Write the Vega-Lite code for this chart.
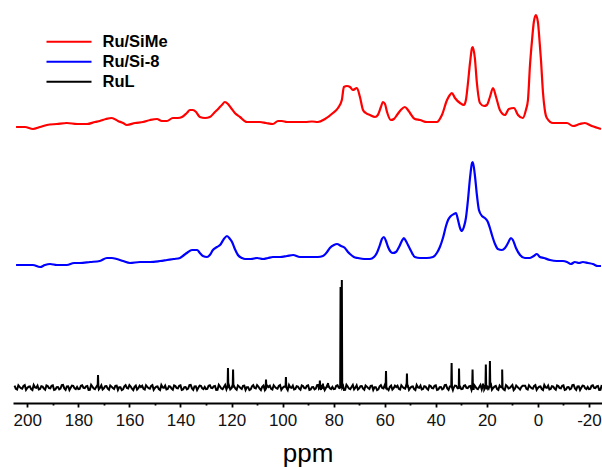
{
"$schema": "https://vega.github.io/schema/vega-lite/v6.json",
"width": 589, "height": 400,
"autosize": {"type": "none"},
"padding": {"left": 13, "top": 3, "right": 0, "bottom": 64},
"datasets": {
"red": [
{"ppm":204.4,"i":276},{"ppm":200.9,"i":276},{"ppm":197.8,"i":274},{"ppm":195.0,"i":276},{"ppm":192.3,"i":278},{"ppm":188.4,"i":279},{"ppm":184.5,"i":280},{"ppm":180.5,"i":279},{"ppm":176.6,"i":279},{"ppm":173.5,"i":281},{"ppm":171.6,"i":282},{"ppm":169.2,"i":284},{"ppm":166.9,"i":285},{"ppm":164.5,"i":282},{"ppm":162.5,"i":280},{"ppm":161.0,"i":278},{"ppm":157.8,"i":280},{"ppm":154.7,"i":281},{"ppm":151.9,"i":283},{"ppm":149.2,"i":284},{"ppm":147.3,"i":282},{"ppm":145.3,"i":282},{"ppm":143.0,"i":285},{"ppm":141.0,"i":285},{"ppm":139.4,"i":286},{"ppm":137.5,"i":290},{"ppm":136.3,"i":293},{"ppm":135.1,"i":293},{"ppm":133.9,"i":291},{"ppm":132.4,"i":286},{"ppm":130.4,"i":285},{"ppm":128.5,"i":286},{"ppm":126.5,"i":291},{"ppm":124.9,"i":295},{"ppm":123.8,"i":298},{"ppm":122.6,"i":301},{"ppm":121.4,"i":299},{"ppm":120.2,"i":295},{"ppm":118.7,"i":290},{"ppm":116.7,"i":286},{"ppm":114.0,"i":281},{"ppm":111.6,"i":281},{"ppm":108.9,"i":281},{"ppm":106.5,"i":280},{"ppm":103.8,"i":279},{"ppm":101.8,"i":282},{"ppm":100.3,"i":282},{"ppm":98.3,"i":281},{"ppm":95.9,"i":281},{"ppm":93.2,"i":281},
{"ppm":91.2,"i":281},{"ppm":88.5,"i":281.5},{"ppm":86.2,"i":281},{"ppm":83.4,"i":284},{"ppm":80.3,"i":290},{"ppm":78.3,"i":295},{"ppm":76.8,"i":303},{"ppm":76.0,"i":316},{"ppm":74.8,"i":317},{"ppm":73.6,"i":316},{"ppm":72.5,"i":313},{"ppm":70.9,"i":315},{"ppm":69.7,"i":306},{"ppm":68.5,"i":293},{"ppm":67.4,"i":290},{"ppm":65.8,"i":288},{"ppm":63.8,"i":286},{"ppm":62.7,"i":288},{"ppm":61.5,"i":296},{"ppm":60.7,"i":301},{"ppm":59.9,"i":299},{"ppm":59.1,"i":291},{"ppm":57.6,"i":283},{"ppm":56.4,"i":284},{"ppm":55.2,"i":288},{"ppm":53.7,"i":293},{"ppm":52.1,"i":296},{"ppm":50.9,"i":293},{"ppm":50.1,"i":290},{"ppm":48.2,"i":284},{"ppm":46.2,"i":283},{"ppm":43.5,"i":281},{"ppm":39.6,"i":281},{"ppm":37.6,"i":288},{"ppm":35.6,"i":303},{"ppm":34.5,"i":308},{"ppm":33.7,"i":310},{"ppm":32.5,"i":305},{"ppm":30.5,"i":300},{"ppm":29.0,"i":298},{"ppm":28.2,"i":303},{"ppm":27.4,"i":320},{"ppm":26.6,"i":340},{"ppm":25.8,"i":355},{"ppm":25.5,"i":356},{"ppm":24.7,"i":345},{"ppm":23.9,"i":320},{"ppm":22.7,"i":300},{"ppm":21.1,"i":297},{"ppm":20.0,"i":298},{"ppm":18.8,"i":306},{"ppm":17.6,"i":315},{"ppm":16.4,"i":306},{"ppm":14.9,"i":293},{"ppm":12.9,"i":288},{"ppm":11.4,"i":294},{"ppm":9.4,"i":295},{"ppm":7.8,"i":288},{"ppm":5.9,"i":285},{"ppm":4.7,"i":293},{"ppm":3.9,"i":303},{"ppm":3.1,"i":338},{"ppm":2.3,"i":363},{"ppm":1.6,"i":381},{"ppm":0.8,"i":388},{"ppm":0.0,"i":381},{"ppm":-0.4,"i":370},{"ppm":-1.2,"i":343},{"ppm":-2.0,"i":310},{"ppm":-2.7,"i":293},{"ppm":-3.5,"i":285},{"ppm":-5.9,"i":280},{"ppm":-8.6,"i":280},{"ppm":-11.4,"i":280},{"ppm":-13.7,"i":277},{"ppm":-16.4,"i":279},{"ppm":-18.4,"i":280},{"ppm":-21.1,"i":277},{"ppm":-23.5,"i":275},{"ppm":-24.7,"i":274}
],
"blue": [
{"ppm":204.4,"i":138},{"ppm":200.9,"i":138},{"ppm":197.8,"i":138},{"ppm":195.0,"i":136},{"ppm":193.1,"i":138},{"ppm":191.1,"i":139},{"ppm":188.4,"i":138},{"ppm":184.5,"i":138},{"ppm":181.7,"i":140},{"ppm":179.4,"i":140},{"ppm":175.4,"i":141},{"ppm":171.6,"i":142},{"ppm":168.8,"i":145},{"ppm":166.9,"i":145},{"ppm":164.9,"i":144},{"ppm":162.5,"i":142},{"ppm":159.8,"i":140},{"ppm":155.9,"i":141},{"ppm":151.9,"i":141},{"ppm":148.0,"i":142},{"ppm":145.3,"i":143},{"ppm":142.6,"i":144},{"ppm":140.2,"i":145},{"ppm":138.6,"i":148},{"ppm":137.5,"i":150},{"ppm":135.5,"i":153},{"ppm":133.5,"i":153},{"ppm":132.4,"i":150},{"ppm":131.2,"i":147},{"ppm":129.6,"i":146},{"ppm":128.5,"i":148},{"ppm":127.3,"i":153},{"ppm":125.7,"i":156},{"ppm":124.5,"i":158},{"ppm":123.0,"i":164},{"ppm":121.8,"i":167},{"ppm":120.6,"i":164},{"ppm":119.8,"i":161},{"ppm":118.7,"i":154},{"ppm":117.5,"i":148},{"ppm":115.9,"i":145},{"ppm":114.7,"i":144},{"ppm":112.4,"i":144},{"ppm":110.0,"i":145},{"ppm":107.7,"i":144},{"ppm":105.7,"i":145},{"ppm":103.8,"i":146},{"ppm":101.0,"i":146},{"ppm":98.3,"i":147},{"ppm":95.9,"i":148},{"ppm":93.2,"i":146},
{"ppm":90.9,"i":146},{"ppm":88.1,"i":146},{"ppm":86.2,"i":146},{"ppm":84.2,"i":147},{"ppm":82.6,"i":151},{"ppm":81.5,"i":155},{"ppm":79.9,"i":158},{"ppm":78.7,"i":159},{"ppm":77.1,"i":157},{"ppm":75.6,"i":155},{"ppm":74.4,"i":151},{"ppm":73.6,"i":149},{"ppm":72.1,"i":146},{"ppm":70.5,"i":145},{"ppm":68.1,"i":144},{"ppm":65.8,"i":144},{"ppm":64.2,"i":146},{"ppm":63.1,"i":150},{"ppm":61.9,"i":158},{"ppm":61.1,"i":164},{"ppm":60.3,"i":166},{"ppm":59.5,"i":162},{"ppm":58.7,"i":156},{"ppm":57.6,"i":151},{"ppm":56.8,"i":150},{"ppm":55.6,"i":151},{"ppm":54.4,"i":156},{"ppm":53.3,"i":162},{"ppm":52.5,"i":165},{"ppm":51.7,"i":162},{"ppm":50.9,"i":158},{"ppm":49.7,"i":152},{"ppm":48.2,"i":146},{"ppm":46.2,"i":145},{"ppm":43.5,"i":145},{"ppm":41.1,"i":146},{"ppm":39.6,"i":150},{"ppm":38.4,"i":156},{"ppm":37.2,"i":165},{"ppm":36.0,"i":177},{"ppm":35.2,"i":183},{"ppm":34.1,"i":187},{"ppm":32.9,"i":189},{"ppm":32.1,"i":190},{"ppm":31.3,"i":183},{"ppm":30.5,"i":175},{"ppm":29.8,"i":172},{"ppm":29.0,"i":176},{"ppm":28.2,"i":185},{"ppm":27.4,"i":203},{"ppm":26.6,"i":225},{"ppm":25.8,"i":240},{"ppm":25.5,"i":241},{"ppm":24.7,"i":228},{"ppm":23.9,"i":208},{"ppm":23.1,"i":193},{"ppm":21.9,"i":187},{"ppm":20.8,"i":185},{"ppm":19.6,"i":181},{"ppm":18.8,"i":175},{"ppm":18.0,"i":168},{"ppm":16.8,"i":159},{"ppm":15.7,"i":154},{"ppm":14.1,"i":153},{"ppm":12.9,"i":155},{"ppm":11.7,"i":160},{"ppm":10.6,"i":165},{"ppm":9.8,"i":163},{"ppm":8.6,"i":155},{"ppm":7.0,"i":148},{"ppm":5.1,"i":145},{"ppm":3.1,"i":145},{"ppm":1.6,"i":147},{"ppm":0.4,"i":149},{"ppm":-0.8,"i":146},{"ppm":-2.3,"i":145},{"ppm":-4.7,"i":143},{"ppm":-7.4,"i":142},{"ppm":-9.8,"i":142},{"ppm":-11.4,"i":141},{"ppm":-12.9,"i":139},{"ppm":-14.5,"i":141},{"ppm":-16.1,"i":140},{"ppm":-17.6,"i":141},{"ppm":-19.6,"i":140},{"ppm":-21.5,"i":139},{"ppm":-23.5,"i":137},{"ppm":-24.7,"i":137}
],
"black": [
{"ppm":205,"i":17.3},{"ppm":204,"i":13.4},{"ppm":203,"i":16.1},{"ppm":202,"i":14.3},{"ppm":201,"i":17.9},{"ppm":200,"i":15.1},{"ppm":199,"i":16.6},{"ppm":198,"i":12.9},{"ppm":197,"i":15.7},{"ppm":196,"i":17.4},{"ppm":195,"i":14.0},{"ppm":194,"i":16.4},{"ppm":193,"i":13.3},{"ppm":192,"i":16.9},{"ppm":191,"i":14.7},{"ppm":190,"i":17.6},{"ppm":189,"i":13.6},{"ppm":188,"i":15.9},{"ppm":187,"i":14.5},{"ppm":186,"i":18.1},{"ppm":185,"i":13.1},{"ppm":184,"i":16.7},{"ppm":183,"i":15.2},{"ppm":182,"i":17.2},{"ppm":181,"i":13.9},
{"ppm":180,"i":13.9},{"ppm":179,"i":17.2},{"ppm":178,"i":15.2},{"ppm":177,"i":16.7},{"ppm":176,"i":13.1},{"ppm":175,"i":18.1},{"ppm":174,"i":14.5},{"ppm":173,"i":15.9},{"ppm":172,"i":13.6},{"ppm":171,"i":17.6},{"ppm":170,"i":14.7},{"ppm":169,"i":16.9},{"ppm":168,"i":13.3},{"ppm":167,"i":16.4},{"ppm":166,"i":14.0},{"ppm":165,"i":17.4},{"ppm":164,"i":15.7},{"ppm":163,"i":12.9},{"ppm":162,"i":16.6},{"ppm":161,"i":15.1},{"ppm":160,"i":17.9},{"ppm":159,"i":14.3},{"ppm":158,"i":16.1},{"ppm":157,"i":13.4},{"ppm":156,"i":17.3},
{"ppm":155,"i":17.3},{"ppm":154,"i":13.4},{"ppm":153,"i":16.1},{"ppm":152,"i":14.3},{"ppm":151,"i":17.9},{"ppm":150,"i":15.1},{"ppm":149,"i":16.6},{"ppm":148,"i":12.9},{"ppm":147,"i":15.7},{"ppm":146,"i":17.4},{"ppm":145,"i":14.0},{"ppm":144,"i":16.4},{"ppm":143,"i":13.3},{"ppm":142,"i":16.9},{"ppm":141,"i":14.7},{"ppm":140,"i":17.6},{"ppm":139,"i":13.6},{"ppm":138,"i":15.9},{"ppm":137,"i":14.5},{"ppm":136,"i":18.1},{"ppm":135,"i":13.1},{"ppm":134,"i":16.7},{"ppm":133,"i":15.2},{"ppm":132,"i":17.2},{"ppm":131,"i":13.9},
{"ppm":130,"i":13.9},{"ppm":129,"i":17.2},{"ppm":128,"i":15.2},{"ppm":127,"i":16.7},{"ppm":126,"i":13.1},{"ppm":125,"i":18.1},{"ppm":124,"i":14.5},{"ppm":123,"i":15.9},{"ppm":122,"i":13.6},{"ppm":121,"i":17.6},{"ppm":120,"i":14.7},{"ppm":119,"i":16.9},{"ppm":118,"i":13.3},{"ppm":117,"i":16.4},{"ppm":116,"i":14.0},{"ppm":115,"i":17.4},{"ppm":114,"i":15.7},{"ppm":113,"i":12.9},{"ppm":112,"i":16.6},{"ppm":111,"i":15.1},{"ppm":110,"i":17.9},{"ppm":109,"i":14.3},{"ppm":108,"i":16.1},{"ppm":107,"i":13.4},{"ppm":106,"i":17.3},
{"ppm":105,"i":17.3},{"ppm":104,"i":13.4},{"ppm":103,"i":16.1},{"ppm":102,"i":14.3},{"ppm":101,"i":17.9},{"ppm":100,"i":15.1},{"ppm":99,"i":16.6},{"ppm":98,"i":12.9},{"ppm":97,"i":15.7},{"ppm":96,"i":17.4},{"ppm":95,"i":14.0},{"ppm":94,"i":16.4},{"ppm":93,"i":13.3},{"ppm":92,"i":16.9},{"ppm":91,"i":14.7},{"ppm":90,"i":17.6},{"ppm":89,"i":13.6},{"ppm":88,"i":15.9},{"ppm":87,"i":14.5},{"ppm":86,"i":18.1},{"ppm":85,"i":13.1},{"ppm":84,"i":16.7},{"ppm":83,"i":15.2},{"ppm":82,"i":17.2},{"ppm":81,"i":13.9},
{"ppm":80,"i":13.9},{"ppm":79,"i":17.2},{"ppm":78,"i":15.2},{"ppm":77,"i":16.7},{"ppm":76,"i":13.1},{"ppm":75,"i":18.1},{"ppm":74,"i":14.5},{"ppm":73,"i":15.9},{"ppm":72,"i":13.6},{"ppm":71,"i":17.6},{"ppm":70,"i":14.7},{"ppm":69,"i":16.9},{"ppm":68,"i":13.3},{"ppm":67,"i":16.4},{"ppm":66,"i":14.0},{"ppm":65,"i":17.4},{"ppm":64,"i":15.7},{"ppm":63,"i":12.9},{"ppm":62,"i":16.6},{"ppm":61,"i":15.1},{"ppm":60,"i":17.9},{"ppm":59,"i":14.3},{"ppm":58,"i":16.1},{"ppm":57,"i":13.4},{"ppm":56,"i":17.3},
{"ppm":55,"i":17.3},{"ppm":54,"i":13.4},{"ppm":53,"i":16.1},{"ppm":52,"i":14.3},{"ppm":51,"i":17.9},{"ppm":50,"i":15.1},{"ppm":49,"i":16.6},{"ppm":48,"i":12.9},{"ppm":47,"i":15.7},{"ppm":46,"i":17.4},{"ppm":45,"i":14.0},{"ppm":44,"i":16.4},{"ppm":43,"i":13.3},{"ppm":42,"i":16.9},{"ppm":41,"i":14.7},{"ppm":40,"i":17.6},{"ppm":39,"i":13.6},{"ppm":38,"i":15.9},{"ppm":37,"i":14.5},{"ppm":36,"i":18.1},{"ppm":35,"i":13.1},{"ppm":34,"i":16.7},{"ppm":33,"i":15.2},{"ppm":32,"i":17.2},{"ppm":31,"i":13.9},
{"ppm":30,"i":13.9},{"ppm":29,"i":17.2},{"ppm":28,"i":15.2},{"ppm":27,"i":16.7},{"ppm":26,"i":13.1},{"ppm":25,"i":18.1},{"ppm":24,"i":14.5},{"ppm":23,"i":15.9},{"ppm":22,"i":13.6},{"ppm":21,"i":17.6},{"ppm":20,"i":14.7},{"ppm":19,"i":16.9},{"ppm":18,"i":13.3},{"ppm":17,"i":16.4},{"ppm":16,"i":14.0},{"ppm":15,"i":17.4},{"ppm":14,"i":15.7},{"ppm":13,"i":12.9},{"ppm":12,"i":16.6},{"ppm":11,"i":15.1},{"ppm":10,"i":17.9},{"ppm":9,"i":14.3},{"ppm":8,"i":16.1},{"ppm":7,"i":13.4},{"ppm":6,"i":17.3},
{"ppm":5,"i":17.3},{"ppm":4,"i":13.4},{"ppm":3,"i":16.1},{"ppm":2,"i":14.3},{"ppm":1,"i":17.9},{"ppm":0,"i":15.1},{"ppm":-1,"i":16.6},{"ppm":-2,"i":12.9},{"ppm":-3,"i":15.7},{"ppm":-4,"i":17.4},{"ppm":-5,"i":14.0},{"ppm":-6,"i":16.4},{"ppm":-7,"i":13.3},{"ppm":-8,"i":16.9},{"ppm":-9,"i":14.7},{"ppm":-10,"i":17.6},{"ppm":-11,"i":13.6},{"ppm":-12,"i":15.9},{"ppm":-13,"i":14.5},{"ppm":-14,"i":18.1},{"ppm":-15,"i":13.1},{"ppm":-16,"i":16.7},{"ppm":-17,"i":15.2},{"ppm":-18,"i":17.2},{"ppm":-19,"i":13.9},
{"ppm":-20,"i":13.9},{"ppm":-21,"i":17.2},{"ppm":-22,"i":15.2},{"ppm":-23,"i":16.7},{"ppm":-24,"i":13.1},{"ppm":-25,"i":18.1},
{"ppm":204.5,"i":14.1},{"ppm":203.5,"i":17.7},{"ppm":202.5,"i":14.9},{"ppm":201.5,"i":17.0},{"ppm":200.5,"i":13.2},{"ppm":199.5,"i":16.3},{"ppm":198.5,"i":13.8},{"ppm":197.5,"i":18.0},{"ppm":196.5,"i":15.3},{"ppm":195.5,"i":13.5},{"ppm":194.5,"i":16.8},{"ppm":193.5,"i":14.4},{"ppm":192.5,"i":17.5},{"ppm":191.5,"i":15.0},{"ppm":190.5,"i":17.1},{"ppm":189.5,"i":13.1},{"ppm":188.5,"i":15.8},{"ppm":187.5,"i":13.7},{"ppm":186.5,"i":17.8},{"ppm":185.5,"i":14.6},{"ppm":184.5,"i":16.5},{"ppm":183.5,"i":12.9},{"ppm":182.5,"i":17.4},{"ppm":181.5,"i":14.8},{"ppm":180.5,"i":16.0},
{"ppm":179.5,"i":14.1},{"ppm":178.5,"i":17.7},{"ppm":177.5,"i":14.9},{"ppm":176.5,"i":17.0},{"ppm":175.5,"i":13.2},{"ppm":174.5,"i":16.3},{"ppm":173.5,"i":13.8},{"ppm":172.5,"i":18.0},{"ppm":171.5,"i":15.3},{"ppm":170.5,"i":13.5},{"ppm":169.5,"i":16.8},{"ppm":168.5,"i":14.4},{"ppm":167.5,"i":17.5},{"ppm":166.5,"i":15.0},{"ppm":165.5,"i":17.1},{"ppm":164.5,"i":13.1},{"ppm":163.5,"i":15.8},{"ppm":162.5,"i":13.7},{"ppm":161.5,"i":17.8},{"ppm":160.5,"i":14.6},{"ppm":159.5,"i":16.5},{"ppm":158.5,"i":12.9},{"ppm":157.5,"i":17.4},{"ppm":156.5,"i":14.8},{"ppm":155.5,"i":16.0},
{"ppm":154.5,"i":14.1},{"ppm":153.5,"i":17.7},{"ppm":152.5,"i":14.9},{"ppm":151.5,"i":17.0},{"ppm":150.5,"i":13.2},{"ppm":149.5,"i":16.3},{"ppm":148.5,"i":13.8},{"ppm":147.5,"i":18.0},{"ppm":146.5,"i":15.3},{"ppm":145.5,"i":13.5},{"ppm":144.5,"i":16.8},{"ppm":143.5,"i":14.4},{"ppm":142.5,"i":17.5},{"ppm":141.5,"i":15.0},{"ppm":140.5,"i":17.1},{"ppm":139.5,"i":13.1},{"ppm":138.5,"i":15.8},{"ppm":137.5,"i":13.7},{"ppm":136.5,"i":17.8},{"ppm":135.5,"i":14.6},{"ppm":134.5,"i":16.5},{"ppm":133.5,"i":12.9},{"ppm":132.5,"i":17.4},{"ppm":131.5,"i":14.8},{"ppm":130.5,"i":16.0},
{"ppm":129.5,"i":14.1},{"ppm":128.5,"i":17.7},{"ppm":127.5,"i":14.9},{"ppm":126.5,"i":17.0},{"ppm":125.5,"i":13.2},{"ppm":124.5,"i":16.3},{"ppm":123.5,"i":13.8},{"ppm":122.5,"i":18.0},{"ppm":121.75,"i":15.3},{"ppm":120.5,"i":13.5},{"ppm":119.75,"i":16.8},{"ppm":118.5,"i":14.4},{"ppm":117.5,"i":17.5},{"ppm":116.5,"i":15.0},{"ppm":115.5,"i":17.1},{"ppm":114.5,"i":13.1},{"ppm":113.5,"i":15.8},{"ppm":112.5,"i":13.7},{"ppm":111.5,"i":17.8},{"ppm":110.5,"i":14.6},{"ppm":109.5,"i":16.5},{"ppm":108.5,"i":12.9},{"ppm":107.5,"i":17.4},{"ppm":106.8,"i":14.8},{"ppm":105.5,"i":16.0},
{"ppm":104.5,"i":14.1},{"ppm":103.5,"i":17.7},{"ppm":102.5,"i":14.9},{"ppm":101.5,"i":17.0},{"ppm":100.5,"i":13.2},{"ppm":99.5,"i":16.3},{"ppm":98.2,"i":13.8},{"ppm":97.5,"i":18.0},{"ppm":96.5,"i":15.3},{"ppm":95.5,"i":13.5},{"ppm":94.5,"i":16.8},{"ppm":93.5,"i":14.4},{"ppm":92.5,"i":17.5},{"ppm":91.5,"i":15.0},{"ppm":90.5,"i":17.1},{"ppm":89.5,"i":13.1},{"ppm":88.5,"i":15.8},{"ppm":87.5,"i":13.7},{"ppm":86.5,"i":17.8},{"ppm":85.8,"i":14.6},{"ppm":84.7,"i":16.5},{"ppm":83.5,"i":12.9},{"ppm":82.6,"i":17.4},{"ppm":81.5,"i":14.8},{"ppm":80.5,"i":16.0},
{"ppm":79.5,"i":14.1},{"ppm":78.5,"i":17.7},{"ppm":77.7,"i":14.9},{"ppm":76.3,"i":17.0},{"ppm":75.5,"i":13.2},{"ppm":74.5,"i":16.3},{"ppm":73.5,"i":13.8},{"ppm":72.5,"i":18.0},{"ppm":71.5,"i":15.3},{"ppm":70.5,"i":13.5},{"ppm":69.5,"i":16.8},{"ppm":68.5,"i":14.4},{"ppm":67.5,"i":17.5},{"ppm":66.5,"i":15.0},{"ppm":65.5,"i":17.1},{"ppm":64.5,"i":13.1},{"ppm":63.5,"i":15.8},{"ppm":62.5,"i":13.7},{"ppm":61.5,"i":17.8},{"ppm":60.5,"i":14.6},{"ppm":59.9,"i":16.5},{"ppm":58.5,"i":12.9},{"ppm":57.5,"i":17.4},{"ppm":56.5,"i":14.8},{"ppm":55.5,"i":16.0},
{"ppm":54.5,"i":14.1},{"ppm":53.5,"i":17.7},{"ppm":52.5,"i":14.9},{"ppm":51.7,"i":17.0},{"ppm":50.5,"i":13.2},{"ppm":49.5,"i":16.3},{"ppm":48.5,"i":13.8},{"ppm":47.5,"i":18.0},{"ppm":46.5,"i":15.3},{"ppm":45.5,"i":13.5},{"ppm":44.5,"i":16.8},{"ppm":43.5,"i":14.4},{"ppm":42.5,"i":17.5},{"ppm":41.5,"i":15.0},{"ppm":40.5,"i":17.1},{"ppm":39.5,"i":13.1},{"ppm":38.5,"i":15.8},{"ppm":37.5,"i":13.7},{"ppm":36.5,"i":17.8},{"ppm":35.5,"i":14.6},{"ppm":34.5,"i":16.5},{"ppm":33.3,"i":12.9},{"ppm":32.5,"i":17.4},{"ppm":31.5,"i":14.8},{"ppm":30.4,"i":16.0},
{"ppm":29.5,"i":14.1},{"ppm":28.5,"i":17.7},{"ppm":27.5,"i":14.9},{"ppm":26.5,"i":17.0},{"ppm":25.2,"i":13.2},{"ppm":24.5,"i":16.3},{"ppm":23.5,"i":13.8},{"ppm":22.5,"i":18.0},{"ppm":21.8,"i":15.3},{"ppm":21.0,"i":13.5},{"ppm":19.95,"i":16.8},{"ppm":19.3,"i":14.4},{"ppm":18.3,"i":17.5},{"ppm":17.5,"i":15.0},{"ppm":16.5,"i":17.1},{"ppm":15.5,"i":13.1},{"ppm":14.5,"i":15.8},{"ppm":13.5,"i":13.7},{"ppm":12.5,"i":17.8},{"ppm":11.5,"i":14.6},{"ppm":10.5,"i":16.5},{"ppm":9.5,"i":12.9},{"ppm":8.5,"i":17.4},{"ppm":7.5,"i":14.8},{"ppm":6.5,"i":16.0},
{"ppm":4.5,"i":14.1},{"ppm":3.5,"i":17.7},{"ppm":2.5,"i":14.9},{"ppm":1.5,"i":17.0},{"ppm":0.5,"i":13.2},{"ppm":-0.5,"i":16.3},{"ppm":-1.5,"i":13.8},{"ppm":-2.5,"i":18.0},{"ppm":-3.5,"i":15.3},{"ppm":-4.5,"i":13.5},{"ppm":-5.5,"i":16.8},{"ppm":-6.5,"i":14.4},{"ppm":-7.5,"i":17.5},{"ppm":-8.5,"i":15.0},{"ppm":-9.5,"i":17.1},{"ppm":-10.5,"i":13.1},{"ppm":-11.5,"i":15.8},{"ppm":-12.5,"i":13.7},{"ppm":-13.5,"i":17.8},{"ppm":-14.5,"i":14.6},{"ppm":-15.5,"i":16.5},{"ppm":-16.5,"i":12.9},{"ppm":-17.5,"i":17.4},{"ppm":-18.5,"i":14.8},{"ppm":-19.5,"i":16.0},
{"ppm":-20.5,"i":14.1},{"ppm":-21.5,"i":17.7},{"ppm":-22.5,"i":14.9},{"ppm":-23.5,"i":17.0},{"ppm":-24.5,"i":13.2},
{"ppm":172.45,"i":15.5},{"ppm":172.3,"i":28},{"ppm":172.15,"i":15.5},
{"ppm":121.55,"i":15.5},{"ppm":121.4,"i":35},{"ppm":121.25,"i":15.5},
{"ppm":119.55,"i":15.5},{"ppm":119.4,"i":33.5},{"ppm":119.25,"i":15.5},
{"ppm":106.65,"i":15.5},{"ppm":106.5,"i":23.5},{"ppm":106.35,"i":15.5},
{"ppm":98.85,"i":15.5},{"ppm":98.7,"i":26},{"ppm":98.55,"i":15.5},
{"ppm":85.55,"i":15.5},{"ppm":85.4,"i":22.5},{"ppm":85.25,"i":15.5},
{"ppm":84.35,"i":15.5},{"ppm":84.2,"i":19.5},{"ppm":84.05,"i":15.5},
{"ppm":82.35,"i":15.5},{"ppm":82.2,"i":20},{"ppm":82.05,"i":15.5},
{"ppm":77.45,"i":15.5},{"ppm":77.3,"i":116},{"ppm":77.15,"i":15.5},
{"ppm":76.95,"i":15.5},{"ppm":76.8,"i":123},{"ppm":76.65,"i":15.5},
{"ppm":59.65,"i":15.5},{"ppm":59.5,"i":32},{"ppm":59.35,"i":15.5},
{"ppm":51.45,"i":15.5},{"ppm":51.3,"i":29.5},{"ppm":51.15,"i":15.5},
{"ppm":33.95,"i":15.5},{"ppm":33.8,"i":40},{"ppm":33.65,"i":15.5},
{"ppm":31.05,"i":15.5},{"ppm":30.9,"i":34.5},{"ppm":30.75,"i":15.5},
{"ppm":25.75,"i":15.5},{"ppm":25.6,"i":33.5},{"ppm":25.45,"i":15.5},
{"ppm":21.65,"i":15.5},{"ppm":21.5,"i":19.5},{"ppm":21.35,"i":15.5},
{"ppm":20.55,"i":15.5},{"ppm":20.4,"i":38.5},{"ppm":20.25,"i":15.5},
{"ppm":18.95,"i":15.5},{"ppm":18.8,"i":42},{"ppm":18.65,"i":15.5},
{"ppm":14.15,"i":15.5},{"ppm":14.0,"i":33.5},{"ppm":13.85,"i":15.5}
]
},
"encoding": {
"x": {"field": "ppm", "type": "quantitative", "title": "ppm",
 "scale": {"domain": [-25.1, 205.6], "reverse": true, "nice": false, "zero": false},
 "axis": {"values": [200,190,180,170,160,150,140,130,120,110,100,90,80,70,60,50,40,30,20,10,0,-10,-20],
  "labelExpr": "datum.value % 20 === 0 ? '' + datum.value : ''",
  "tickSize": {"condition": {"test": "datum.value % 20 === 0", "value": 4}, "value": 2},
  "tickWidth": 1.8, "tickColor": "#000", "domainColor": "#000", "domainWidth": 1.8,
  "labelFont": "Liberation Sans", "labelFontSize": 17, "labelColor": "#111", "labelPadding": 5,
  "labelFlush": false, "labelOverlap": false, "grid": false,
  "titleFont": "Liberation Sans", "titleFontSize": 26, "titleFontWeight": "normal", "titleColor": "#000", "titlePadding": 12}},
"y": {"field": "i", "type": "quantitative", "scale": {"domain": [0, 400], "nice": false, "zero": false}, "axis": null}
},
"layer": [
{"data": {"name": "red"}, "mark": {"type": "line", "strokeWidth": 2.2, "interpolate": "monotone"},
 "encoding": {"color": {"datum": "Ru/SiMe", "type": "nominal",
  "scale": {"domain": ["Ru/SiMe", "Ru/Si-8", "RuL"], "range": ["#ff0000", "#0000ff", "#000000"]},
  "legend": {"orient": "none", "legendX": 32.5, "legendY": 29, "title": null, "padding": 0, "rowPadding": 0, "clipHeight": 19.5,
   "symbolType": "stroke", "symbolSize": 2025, "symbolStrokeWidth": 2,
   "labelFont": "Liberation Sans", "labelFontSize": 16.5, "labelFontWeight": "bold", "labelColor": "#000", "labelOffset": 10}}}},
{"data": {"name": "blue"}, "mark": {"type": "line", "strokeWidth": 2.2, "interpolate": "monotone"},
 "encoding": {"color": {"datum": "Ru/Si-8", "type": "nominal"}}},
{"data": {"name": "black"}, "mark": {"type": "line", "strokeWidth": 2},
 "encoding": {"color": {"datum": "RuL", "type": "nominal"}}}
],
"config": {"view": {"stroke": null}}
}
